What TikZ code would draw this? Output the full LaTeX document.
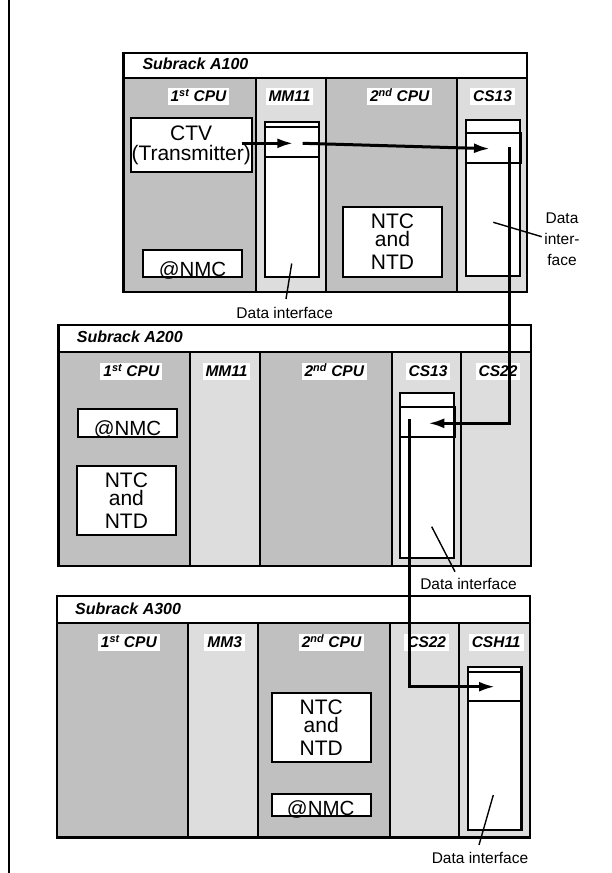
\documentclass[tikz,border=0pt]{standalone}
\usepackage{fontspec}
\setmainfont{Liberation Sans}
\usetikzlibrary{arrows.meta}
\definecolor{darkg}{HTML}{C0C0C0}
\definecolor{lightg}{HTML}{DDDDDD}
\begin{document}
\begin{tikzpicture}[x=1pt,y=-1pt,
  rackline/.style={line width=2.4pt,line cap=rect},
  divline/.style={line width=2.2pt},
  collabel/.style={fill=white,inner xsep=3pt,inner ysep=2.5pt,font=\fontsize{15.5}{18}\selectfont\bfseries\itshape,text height=11.5pt,text depth=0.5pt},
  racktitle/.style={anchor=base west,inner sep=0pt,font=\fontsize{16}{18}\selectfont\bfseries\itshape},
  item/.style={draw,line width=2.2pt,fill=white,inner sep=0pt,font=\fontsize{21}{24}\selectfont,align=center},
  plainbox/.style={draw,line width=2.2pt,inner sep=0pt},
  nmctext/.style={anchor=base,inner sep=0pt,font=\fontsize{20.5}{24}\selectfont},
  dilabel/.style={inner sep=0pt,font=\fontsize{15.5}{21}\selectfont,align=center},
  conn/.style={line width=3pt,-{Latex[length=16pt,width=10pt]}},
  leader/.style={line width=1.4pt}
]
\useasboundingbox (0,0) rectangle (612,873);
\fill[white] (0,0) rectangle (612,873);
% left rule
\coordinate (lt) at (9,0);
\coordinate (lb) at (9,873);
\draw[line width=2pt] (lt) -- (lb);

% ================= Subrack A100
\fill[white] (123.3,52.7) rectangle (527,78.3);
\fill[darkg] (123.3,78.3) rectangle (255.7,291.7);
\fill[lightg] (255.7,78.3) rectangle (326,291.7);
\fill[darkg] (326,78.3) rectangle (457.3,291.7);
\fill[lightg] (457.3,78.3) rectangle (527,291.7);
\draw[divline] (123.3,78.3) -- (527,78.3);
\foreach \x in {255.7,326,457.3} \draw[divline] (\x,78.3) -- (\x,291.7);
\draw[rackline] (123.3,52.7) rectangle (527,291.7);
\node[racktitle] (t100) at (142.3,69.3) {Subrack A100};
\node[collabel] (l100a) at (198.5,96) {1\textsuperscript{st} CPU};
\node[collabel] (l100b) at (289.5,96) {MM11};
\node[collabel] (l100c) at (399.7,96) {2\textsuperscript{nd} CPU};
\node[collabel] (l100d) at (492.5,96) {CS13};

\node[item,minimum width=121pt,minimum height=53.4pt] (ctv) at (191.2,145) {CTV\\[-4pt](Transmitter)};
\node[item,minimum width=98.4pt,minimum height=26.7pt] (nmc100) at (192.5,263.35) {};
\node[nmctext] (nmc100t) at (192.5,276) {@NMC};
\node[item,minimum width=54pt,minimum height=155pt] (mm11) at (292.3,199.2) {};
\node[plainbox,minimum width=54pt,minimum height=29.4pt] (mm11s) at (292.3,142) {};
\node[item,minimum width=98.4pt,minimum height=69.4pt] (ntc100) at (392.5,242) {NTC\\[-6pt]and\\[-1pt]NTD};
\node[item,minimum width=54pt,minimum height=156pt] (cs13a) at (493,198) {};
\node[plainbox,minimum width=55pt,minimum height=30.6pt] (cs13as) at (493.5,148) {};

% ================= Subrack A200
\fill[white] (58.3,325) rectangle (531,351.7);
\fill[darkg] (58.3,351.7) rectangle (190,566);
\fill[lightg] (190,351.7) rectangle (260,566);
\fill[darkg] (260,351.7) rectangle (391.7,566);
\fill[lightg] (391.7,351.7) rectangle (531,566);
\draw[divline] (58.3,351.7) -- (531,351.7);
\foreach \x in {190,260,391.7,461} \draw[divline] (\x,351.7) -- (\x,566);
\draw[rackline] (58.3,325) rectangle (531,566);
\node[racktitle] (t200) at (76.7,342.7) {Subrack A200};
\node[collabel] (l200a) at (131.3,371.3) {1\textsuperscript{st} CPU};
\node[collabel] (l200b) at (226.5,371.3) {MM11};
\node[collabel] (l200c) at (334.3,371.3) {2\textsuperscript{nd} CPU};
\node[collabel] (l200d) at (428,371.3) {CS13};
\node[collabel] (l200e) at (498,371.3) {CS22};

\node[item,minimum width=99pt,minimum height=28.3pt] (nmc200) at (127.8,423.15) {};
\node[nmctext] (nmc200t) at (127.5,435.7) {@NMC};
\node[item,minimum width=99.3pt,minimum height=69pt] (ntc200) at (126.35,500.5) {NTC\\[-6pt]and\\[-1pt]NTD};
\node[item,minimum width=54pt,minimum height=165.6pt] (cs13b) at (427,475.5) {};
\node[plainbox,minimum width=55pt,minimum height=30pt] (cs13bs) at (427.5,421.7) {};

% ================= Subrack A300
\fill[white] (56.7,596) rectangle (530,623.3);
\fill[darkg] (56.7,623.3) rectangle (188.3,837.3);
\fill[lightg] (188.3,623.3) rectangle (258.3,837.3);
\fill[darkg] (258.3,623.3) rectangle (390,837.3);
\fill[lightg] (390,623.3) rectangle (530,837.3);
\draw[divline] (56.7,623.3) -- (530,623.3);
\foreach \x in {188.3,258.3,390,459.3} \draw[divline] (\x,623.3) -- (\x,837.3);
\draw[rackline] (56.7,596) rectangle (530,837.3);
\node[racktitle] (t300) at (75,614) {Subrack A300};
\node[collabel] (l300a) at (128.8,642) {1\textsuperscript{st} CPU};
\node[collabel] (l300b) at (224.7,642) {MM3};
\node[collabel] (l300c) at (331.5,642) {2\textsuperscript{nd} CPU};
\node[collabel] (l300d) at (426.7,642) {CS22};
\node[collabel] (l300e) at (496.2,642) {CSH11};

\node[item,minimum width=99pt,minimum height=68.4pt] (ntc300) at (321.2,727.5) {NTC\\[-6pt]and\\[-1pt]NTD};
\node[item,minimum width=99pt,minimum height=22pt] (nmc300) at (321.2,805) {};
\node[nmctext] (nmc300t) at (320.7,815) {@NMC};
\node[item,minimum width=53.2pt,minimum height=163.3pt] (csh11) at (494.9,748.35) {};
\node[plainbox,minimum width=53.7pt,minimum height=29.5pt] (csh11s) at (495.15,686.45) {};

% ================= connectors
\coordinate (a1s) at (241.7,143.3);
\coordinate (a1e) at (293.3,143.3);
\coordinate (a2s) at (302.7,143.3);
\coordinate (a2e) at (490,148.7);
\coordinate (a3s) at (509,147.3);
\coordinate (a3k) at (509,423.3);
\coordinate (a3e) at (428.3,423.3);
\coordinate (a4s) at (409,419.3);
\coordinate (a4k) at (409,686.7);
\coordinate (a4e) at (495,686.7);
\draw[conn] (a1s) -- (a1e);
\draw[conn] (a2s) -- (a2e);
\draw[conn] (a3s) -- (a3k) -- (a3e);
\draw[conn] (a4s) -- (a4k) -- (a4e);

% ================= data interface labels
\coordinate (d1a) at (291.7,263.5);
\coordinate (d1b) at (286,299);
\draw[leader] (d1a) -- (d1b);
\node[dilabel,anchor=base] (di1) at (284.7,318.3) {Data interface};

\coordinate (d2a) at (493.3,222.3);
\coordinate (d2b) at (541.7,236.7);
\draw[leader] (d2a) -- (d2b);
\node[dilabel,anchor=north] (di2) at (562,212.7) {Data\\inter-\\face};

\coordinate (d3a) at (431.7,526.7);
\coordinate (d3b) at (455,571.7);
\draw[leader] (d3a) -- (d3b);
\node[dilabel,anchor=base] (di3) at (468.5,589.5) {Data interface};

\coordinate (d4a) at (493.3,795);
\coordinate (d4b) at (479,845);
\draw[leader] (d4a) -- (d4b);
\node[dilabel,anchor=base] (di4) at (480,863.3) {Data interface};
\end{tikzpicture}
\end{document}
